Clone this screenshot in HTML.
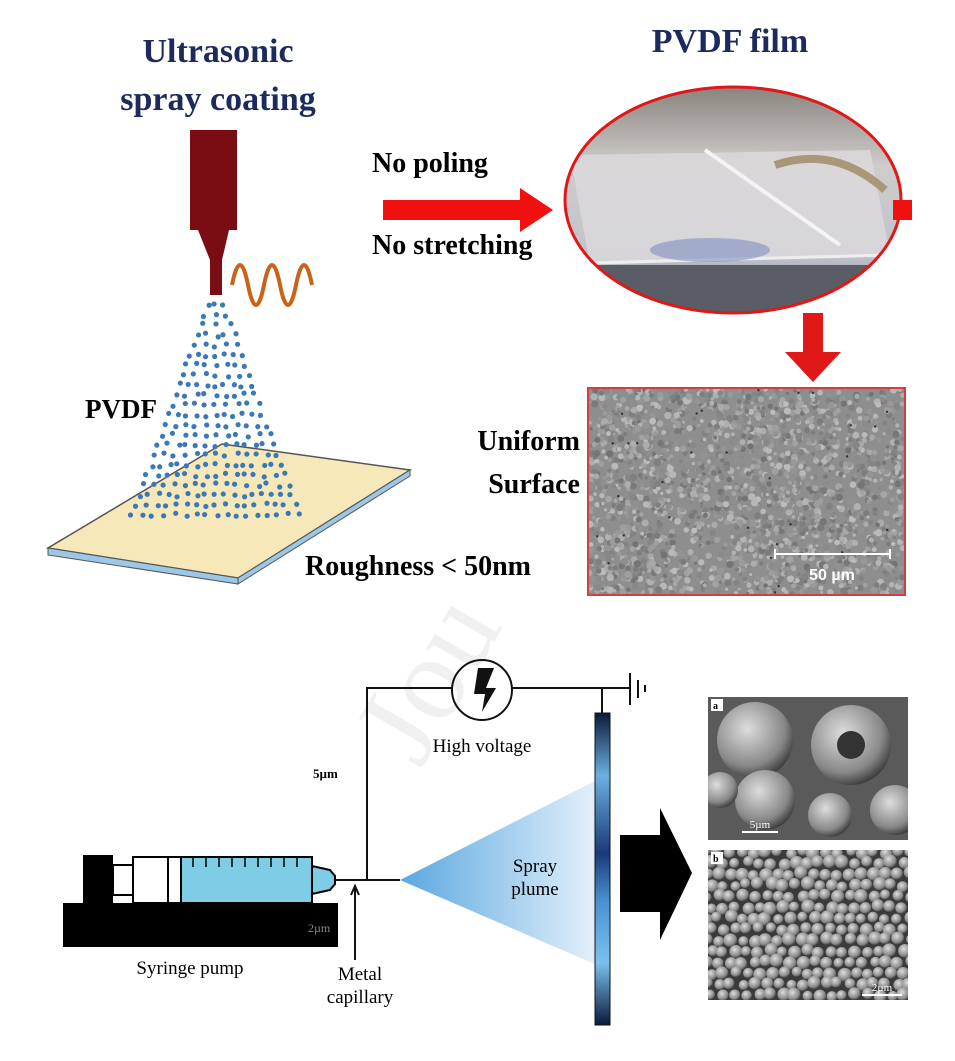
<!DOCTYPE html>
<html><head><meta charset="utf-8"><style>
html,body{margin:0;padding:0;background:#fff;}
svg{display:block;}
.t{font-family:"Liberation Serif",serif;font-weight:bold;}
.n{font-family:"Liberation Serif",serif;}
</style></head><body>
<svg id="s" width="955" height="1061" viewBox="0 0 955 1061" xmlns="http://www.w3.org/2000/svg">
<defs>
<linearGradient id="plume" x1="0" x2="1" y1="0" y2="0"><stop offset="0" stop-color="#5aa8e0"/><stop offset="1" stop-color="#e4f0fa"/></linearGradient>
<linearGradient id="plate" x1="0" x2="0" y1="0" y2="1"><stop offset="0" stop-color="#0a1a3a"/><stop offset="0.2" stop-color="#6ab0e0"/><stop offset="0.45" stop-color="#1a3a7a"/><stop offset="0.6" stop-color="#4a90d0"/><stop offset="0.8" stop-color="#7ac0f0"/><stop offset="1" stop-color="#0a1a3a"/></linearGradient>
<radialGradient id="sph" cx="0.4" cy="0.35" r="0.7"><stop offset="0" stop-color="#ddd"/><stop offset="0.7" stop-color="#888"/><stop offset="1" stop-color="#333"/></radialGradient>
<linearGradient id="ell" x1="0" x2="0" y1="0" y2="1"><stop offset="0" stop-color="#8a847e"/><stop offset="0.35" stop-color="#cfcccb"/><stop offset="0.75" stop-color="#c0c3cc"/><stop offset="1" stop-color="#7a7a80"/></linearGradient>
<clipPath id="ec"><ellipse cx="733" cy="200" rx="168" ry="113"/></clipPath>
<clipPath id="ca"><rect x="708" y="697" width="200" height="143"/></clipPath>
<clipPath id="cb"><rect x="708" y="850" width="200" height="150"/></clipPath>
<clipPath id="cs"><rect x="589" y="389" width="315" height="205"/></clipPath>
</defs>
<text x="420" y="770" transform="rotate(-60 420 770)" class="n" font-size="120" fill="#f0f0f0">Jou</text>

<text x="218" y="62" text-anchor="middle" class="t" font-size="34" fill="#1c2a5c">Ultrasonic</text>
<text x="218" y="110" text-anchor="middle" class="t" font-size="34" fill="#1c2a5c">spray coating</text>
<text x="730" y="52" text-anchor="middle" class="t" font-size="34" fill="#1c2a5c">PVDF film</text>

<rect x="190" y="130" width="47" height="100" fill="#7a0c14"/>
<polygon points="198,230 229,230 222,260 222,295 210,295 210,260" fill="#7a0c14"/>
<path d="M232,285 q8,-40 16,0 t16,0 t16,0 t16,0 t16,0" fill="none" stroke="#c8641a" stroke-width="4"/>

<polygon points="48,548 238,578 410,470 222,444" fill="#f6e8b8" stroke="#555" stroke-width="1.5"/>
<polygon points="48,548 238,578 238,584 48,555" fill="#9cc8e8" stroke="#555" stroke-width="1"/>
<polygon points="238,578 410,470 410,476 238,584" fill="#9cc8e8" stroke="#555" stroke-width="1"/>
<g id="dots" fill="#3a78b8"></g>
<text x="85" y="418" class="t" font-size="27">PVDF</text>

<rect x="383" y="200" width="140" height="20" fill="#f01010"/>
<polygon points="520,188 553,210 520,232" fill="#f01010"/>
<text x="372" y="172" class="t" font-size="28">No poling</text>
<text x="372" y="254" class="t" font-size="28">No stretching</text>

<ellipse cx="733" cy="200" rx="168" ry="113" fill="url(#ell)"/>
<g clip-path="url(#ec)">
<polygon points="570,155 870,150 890,255 590,265" fill="#dcdadc" opacity="0.8"/>
<line x1="705" y1="150" x2="840" y2="245" stroke="#f4f4f4" stroke-width="4"/>
<line x1="590" y1="263" x2="890" y2="255" stroke="#eee" stroke-width="3"/>
<path d="M775,165 q60,-20 110,25" stroke="#a89878" stroke-width="8" fill="none"/>
<rect x="560" y="265" width="350" height="60" fill="#5a5d66"/>
<ellipse cx="710" cy="250" rx="60" ry="12" fill="#8090c0" opacity="0.6"/>
</g>
<ellipse cx="733" cy="200" rx="168" ry="113" fill="none" stroke="#e01818" stroke-width="3"/>
<rect x="893" y="200" width="19" height="20" fill="#f01010"/>

<rect x="803" y="313" width="20" height="45" fill="#e01818"/>
<polygon points="785,352 841,352 813,382" fill="#e01818"/>

<rect x="588" y="388" width="317" height="207" fill="#8e8e8e"/>
<g id="sem" clip-path="url(#cs)"></g>
<rect x="588" y="388" width="317" height="207" fill="none" stroke="#d04040" stroke-width="2"/>
<line x1="775" y1="554" x2="890" y2="554" stroke="#fff" stroke-width="2"/>
<line x1="775" y1="549" x2="775" y2="559" stroke="#fff" stroke-width="2"/>
<line x1="890" y1="549" x2="890" y2="559" stroke="#fff" stroke-width="2"/>
<text x="832" y="580" text-anchor="middle" font-family="Liberation Sans,sans-serif" font-weight="bold" font-size="16" fill="#fff">50 µm</text>
<text x="580" y="450" text-anchor="end" class="t" font-size="28">Uniform</text>
<text x="580" y="493" text-anchor="end" class="t" font-size="28">Surface</text>
<text x="305" y="575" class="t" font-size="28">Roughness &lt; 50nm</text>

<g stroke="#111" stroke-width="2" fill="none">
<polyline points="367,880 367,688 452,688"/>
<circle cx="482" cy="690" r="30"/>
<line x1="512" y1="688" x2="630" y2="688"/>
<line x1="602" y1="688" x2="602" y2="713"/>
<line x1="630" y1="673" x2="630" y2="705"/>
<line x1="638" y1="680" x2="638" y2="698"/>
<line x1="645" y1="685" x2="645" y2="692"/>
<line x1="335" y1="880" x2="400" y2="880"/>
<line x1="355" y1="960" x2="355" y2="888"/>
<polyline points="351,895 355,886 359,895"/>
</g>
<polygon points="478,668 494,668 486,688 496,688 482,712 485,694 474,694" fill="#111"/>
<text x="482" y="752" text-anchor="middle" class="n" font-size="19">High voltage</text>
<text x="313" y="778" class="t" font-size="13">5µm</text>

<polygon points="400,880 597,780 597,965" fill="url(#plume)"/>
<text x="535" y="872" text-anchor="middle" class="n" font-size="19">Spray</text>
<text x="535" y="895" text-anchor="middle" class="n" font-size="19">plume</text>
<rect x="595" y="713" width="15" height="312" fill="url(#plate)" stroke="#111" stroke-width="1"/>

<rect x="63" y="903" width="275" height="44" fill="#000"/>
<rect x="83" y="855" width="30" height="50" fill="#000"/>
<rect x="113" y="865" width="22" height="30" fill="#fff" stroke="#000" stroke-width="2"/>
<rect x="133" y="857" width="35" height="46" fill="#fff" stroke="#000" stroke-width="2"/>
<rect x="168" y="857" width="13" height="46" fill="#fff" stroke="#000" stroke-width="2"/>
<rect x="181" y="857" width="131" height="46" fill="#7fcce6" stroke="#000" stroke-width="2"/>
<g stroke="#000" stroke-width="1.5"><line x1="193" y1="857" x2="193" y2="867"/><line x1="206" y1="857" x2="206" y2="867"/><line x1="219" y1="857" x2="219" y2="867"/><line x1="232" y1="857" x2="232" y2="867"/><line x1="245" y1="857" x2="245" y2="867"/><line x1="258" y1="857" x2="258" y2="867"/><line x1="271" y1="857" x2="271" y2="867"/><line x1="284" y1="857" x2="284" y2="867"/><line x1="297" y1="857" x2="297" y2="867"/></g>
<polygon points="312,866 330,870 335,876 335,884 330,890 312,894" fill="#7fcce6" stroke="#000" stroke-width="2"/>
<text x="308" y="932" class="n" font-size="12" fill="#888">2µm</text>
<text x="190" y="974" text-anchor="middle" class="n" font-size="19">Syringe pump</text>
<text x="360" y="980" text-anchor="middle" class="n" font-size="19">Metal</text>
<text x="360" y="1003" text-anchor="middle" class="n" font-size="19">capillary</text>

<polygon points="620,835 660,835 660,808 692,873 660,940 660,912 620,912" fill="#000"/>

<rect x="708" y="697" width="200" height="143" fill="#5a5a5a"/>
<g clip-path="url(#ca)">
<circle cx="755" cy="740" r="38" fill="url(#sph)"/>
<circle cx="851" cy="745" r="40" fill="url(#sph)"/><circle cx="851" cy="745" r="14" fill="#333"/>
<circle cx="765" cy="800" r="30" fill="url(#sph)"/>
<circle cx="830" cy="815" r="22" fill="url(#sph)"/>
<circle cx="895" cy="810" r="25" fill="url(#sph)"/>
<circle cx="720" cy="790" r="18" fill="url(#sph)"/>
</g>
<rect x="711" y="699" width="12" height="12" fill="#fff"/><text x="713" y="709" class="t" font-size="10">a</text>
<line x1="742" y1="832" x2="778" y2="832" stroke="#fff" stroke-width="2"/>
<text x="760" y="828" text-anchor="middle" class="n" font-size="11" fill="#fff">5µm</text>
<rect x="708" y="850" width="200" height="150" fill="#3a3a3a"/>
<g id="bs" clip-path="url(#cb)"></g>
<rect x="711" y="852" width="12" height="12" fill="#fff"/><text x="713" y="862" class="t" font-size="10">b</text>
<line x1="862" y1="995" x2="902" y2="995" stroke="#fff" stroke-width="2"/>
<text x="882" y="991" text-anchor="middle" class="n" font-size="11" fill="#fff">2µm</text>
</svg>
<script>
var NS="http://www.w3.org/2000/svg";
function c(p,x,y,r,f){var e=document.createElementNS(NS,"circle");e.setAttribute("cx",x);e.setAttribute("cy",y);e.setAttribute("r",r);if(f)e.setAttribute("fill",f);p.appendChild(e);}
var seed=7;function rnd(){seed=(seed*9301+49297)%233280;return seed/233280;}
var d=document.getElementById("dots");
for(var y=305;y<520;y+=10){var t=(y-300)/220;var half=5+t*80;var n=Math.max(1,Math.round(half/10));for(var i=0;i<=2*n;i++){var x=216-half+i*(2*half/(2*n))+(rnd()-0.5)*5;c(d,x,y+(rnd()-0.5)*4,2.6);}}
var s=document.getElementById("sem");
for(var i=0;i<2200;i++){var x=589+rnd()*315,y=389+rnd()*205;var g=Math.floor(115+rnd()*75);c(s,x,y,1.5+rnd()*2.2,"rgb("+g+","+g+","+g+")");}
for(var i=0;i<30;i++){c(s,590+rnd()*313,390+rnd()*203,1.2,"#333");}
var b=document.getElementById("bs");
for(var y=852;y<1005;y+=11){for(var x=706+(y%2)*5;x<912;x+=12){c(b,x+(rnd()-0.5)*4,y+(rnd()-0.5)*4,5+rnd()*2,"url(#sph)");}}
</script>
</body></html>
